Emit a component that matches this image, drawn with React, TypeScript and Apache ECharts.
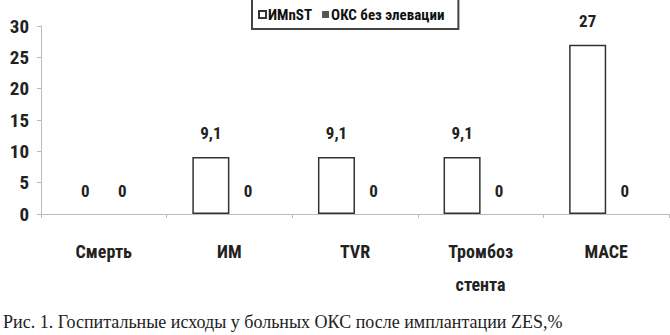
import React, { useEffect, useRef } from "react";
import * as echarts from "echarts";

const categories = ["Смерть", "ИМ", "TVR", "Тромбоз\nстента", "MACE"];
const seriesNames = ["ИМnST", "ОКС без элевации"];
const imnstValues = [0, 9.1, 9.1, 9.1, 27];
const oksValues = [0, 0, 0, 0, 0];
const yTicks = { min: 0, max: 30, interval: 5 };
const caption = "Рис. 1. Госпитальные исходы у больных ОКС после имплантации ZES,%";

const FONT = "'Liberation Sans Narrow', 'Arial Narrow', 'Roboto Condensed', 'Liberation Sans', sans-serif";

export default function App() {
  const ref = useRef<HTMLDivElement>(null);
  useEffect(() => {
    const chart = echarts.init(ref.current!, null, { renderer: "svg" });
    const fmt = (p: any) => String(p.value).replace(".", ",");
    const labelStyle = {
      show: true,
      position: "top",
      distance: 15,
      fontFamily: FONT,
      fontWeight: "bold",
      fontSize: 17,
      color: "#222",
      formatter: fmt,
    };
    const toData = (arr: number[]) =>
      arr.map((v) => (v === 0 ? { value: v, itemStyle: { borderWidth: 0, color: "rgba(0,0,0,0)" } } : v));
    chart.setOption({
      animation: false,
      backgroundColor: "#fff",
      legend: {
        data: seriesNames,
        icon: "rect",
        top: -3,
        left: 252,
        itemWidth: 7,
        itemHeight: 7,
        itemGap: 10,
        borderColor: "#444",
        borderWidth: 2,
        padding: [10, 14, 7, 6],
        textStyle: { fontFamily: FONT, fontWeight: "bold", fontSize: 15, color: "#111", padding: [0, 0, 0, -3] },
      },
      grid: { left: 41, right: 1, top: 26, bottom: 121, containLabel: false },
      xAxis: {
        type: "category",
        data: categories,
        axisLine: { lineStyle: { color: "#bbb", width: 1 } },
        axisTick: { show: true, length: 4, lineStyle: { color: "#bbb" } },
        axisLabel: {
          margin: 21,
          fontFamily: FONT,
          fontWeight: "bold",
          fontSize: 18,
          lineHeight: 33,
          color: "#222",
          interval: 0,
        },
      },
      yAxis: {
        type: "value",
        min: yTicks.min,
        max: yTicks.max,
        interval: yTicks.interval,
        splitLine: { show: false },
        axisLine: { show: true, lineStyle: { color: "#bbb", width: 1 } },
        axisTick: { show: true, length: 4, lineStyle: { color: "#bbb" } },
        axisLabel: {
          margin: 12,
          fontFamily: FONT,
          fontWeight: "bold",
          fontSize: 19,
          color: "#222",
        },
      },
      series: [
        {
          name: seriesNames[0],
          type: "bar",
          data: toData(imnstValues),
          barGap: "0%",
          barCategoryGap: "41%",
          itemStyle: { color: "#fff", borderColor: "#333", borderWidth: 1.5 },
          label: labelStyle,
        },
        {
          name: seriesNames[1],
          type: "bar",
          data: oksValues,
          itemStyle: { color: "#555", borderColor: "#555", borderWidth: 0 },
          label: labelStyle,
        },
      ],
      graphic: [
        {
          type: "text",
          left: 3,
          top: 313,
          style: {
            text: caption,
            fontFamily: "'Liberation Serif', 'DejaVu Serif', serif",
            fontSize: 18,
            fill: "#222",
          },
        },
      ],
    });
    return () => chart.dispose();
  }, []);
  return (
    <div
      ref={ref}
      style={{ position: "fixed", left: 0, top: 0, width: 670, height: 335, background: "#fff" }}
    />
  );
}
